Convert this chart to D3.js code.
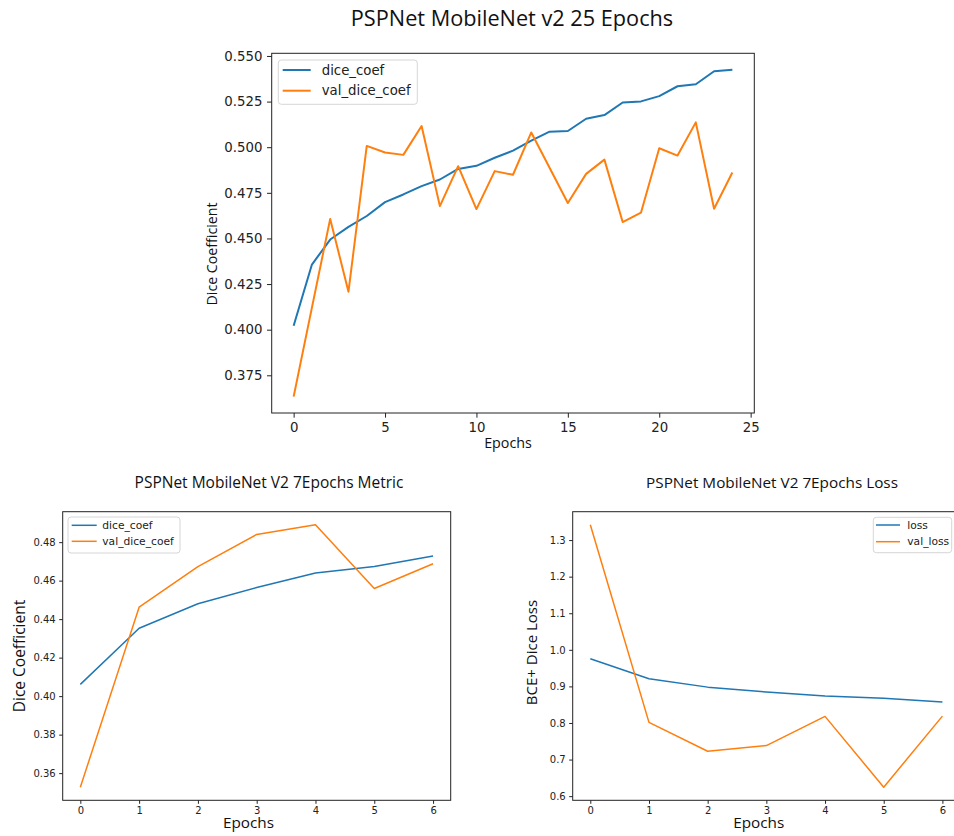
<!DOCTYPE html>
<html>
<head>
<meta charset="utf-8">
<script src="https://cdn.jsdelivr.net/npm/d3@7"></script>
<style>
	html, body { margin: 0; padding: 0; background: #fff; overflow: hidden; }
	svg { display: block; }
	.tick text { font-family: "DejaVu Sans", sans-serif; fill: #222; }
	.label { font-family: "Open Sans", "Noto Sans", sans-serif; fill: #111; }
</style>
</head>
<body>
<svg id="chart"></svg>
<script>
// 25 epoch run
var epochs25 = [0, 1, 2, 3, 4, 5, 6, 7, 8, 9, 10, 11, 12, 13, 14, 15, 16, 17, 18, 19, 20, 21, 22, 23, 24];
var diceCoef25 = [0.4022, 0.4357, 0.4494, 0.4563, 0.4623, 0.4699, 0.4741, 0.4787, 0.4823, 0.4881,
	0.4898, 0.4942, 0.4981, 0.5036, 0.5085, 0.5089, 0.5156, 0.5176, 0.5245, 0.5251,
	0.5280, 0.5334, 0.5345, 0.5416, 0.5425];
var valDiceCoef25 = [0.3633, 0.4121, 0.4607, 0.4208, 0.5007, 0.4971, 0.4958, 0.5116, 0.4677, 0.4896,
	0.4661, 0.4869, 0.4849, 0.5081, 0.4887, 0.4694, 0.4854, 0.4932, 0.4590, 0.4641,
	0.4994, 0.4954, 0.5136, 0.4663, 0.4861];
var xTicks25 = [0, 5, 10, 15, 20, 25];
var yTicks25 = [0.375, 0.400, 0.425, 0.450, 0.475, 0.500, 0.525, 0.550];

// 7 epoch run
var epochs7 = [0, 1, 2, 3, 4, 5, 6];
var diceCoef7 = [0.4061, 0.4353, 0.4480, 0.4564, 0.4640, 0.4673, 0.4728];
var valDiceCoef7 = [0.3527, 0.4462, 0.4673, 0.4840, 0.4890, 0.4559, 0.4688];
var loss7 = [0.9755, 0.9210, 0.8980, 0.8847, 0.8738, 0.8676, 0.8575];
var valLoss7 = [1.3417, 0.8016, 0.7226, 0.7382, 0.8180, 0.6245, 0.8188];
var xTicks7 = [0, 1, 2, 3, 4, 5, 6];
var yTicksMetric7 = [0.36, 0.38, 0.40, 0.42, 0.44, 0.46, 0.48];
var yTicksLoss7 = [0.6, 0.7, 0.8, 0.9, 1.0, 1.1, 1.2, 1.3];

var blue = "#1f77b4", orange = "#ff7f0e";

var svg = d3.select("#chart").attr("width", 954).attr("height", 836);

function drawPanel(cfg) {
	var g = svg.append("g");
	// matplotlib style 5% padding around the data
	var all = [];
	cfg.series.forEach(function(s) { all = all.concat(s.values); });
	var ext = d3.extent(all), pad = (ext[1] - ext[0]) * 0.05;
	var xPad = (d3.max(cfg.xs) - d3.min(cfg.xs)) * 0.05;

	var x = d3.scaleLinear()
		.domain([d3.min(cfg.xs) - xPad, d3.max(cfg.xs) + xPad])
		.range([cfg.left, cfg.right]);
	var y = d3.scaleLinear()
		.domain([ext[0] - pad, ext[1] + pad])
		.range([cfg.bottom, cfg.top]);

	var xAxis = g.append("g")
		.attr("transform", "translate(0," + cfg.bottom + ")")
		.call(d3.axisBottom(x).tickValues(cfg.xTicks).tickFormat(d3.format("d"))
			.tickSizeInner(cfg.tick).tickSizeOuter(0).tickPadding(cfg.tick));
	var yAxis = g.append("g")
		.attr("transform", "translate(" + cfg.left + ",0)")
		.call(d3.axisLeft(y).tickValues(cfg.yTicks).tickFormat(d3.format(cfg.yFormat))
			.tickSizeInner(cfg.tick).tickSizeOuter(0).tickPadding(cfg.tick));
	[xAxis, yAxis].forEach(function(a) {
		a.select(".domain").remove();
		a.selectAll(".tick line").attr("stroke", "#222");
		a.selectAll(".tick text").style("font-size", cfg.tickFont + "px");
	});

	var line = d3.line()
		.x(function(d, i) { return x(cfg.xs[i]); })
		.y(function(d) { return y(d); });

	var clipId = "clip" + Math.round(cfg.left);
	g.append("clipPath").attr("id", clipId)
		.append("rect")
			.attr("x", cfg.left).attr("y", cfg.top)
			.attr("width", cfg.right - cfg.left).attr("height", cfg.bottom - cfg.top);

	cfg.series.forEach(function(s) {
		g.append("path")
			.attr("d", line(s.values))
			.attr("clip-path", "url(#" + clipId + ")")
			.style("fill", "none")
			.style("stroke", s.color)
			.style("stroke-width", cfg.lineWidth + "px")
			.style("stroke-linejoin", "round");
	});

	// axes frame
	g.append("rect")
		.attr("x", cfg.left).attr("y", cfg.top)
		.attr("width", cfg.right - cfg.left).attr("height", cfg.bottom - cfg.top)
		.style("fill", "none")
		.style("stroke", "#222")
		.style("stroke-width", "1px");

	// legend
	var lg = cfg.legend;
	g.append("rect")
		.attr("x", lg.x).attr("y", lg.y)
		.attr("width", lg.w).attr("height", lg.h)
		.attr("rx", 3)
		.style("fill", "#fff")
		.style("fill-opacity", 0.8)
		.style("stroke", "#d6d6d6")
		.style("stroke-width", "1px");
	cfg.series.forEach(function(s, i) {
		var ly = lg.rows[i];
		g.append("line")
			.attr("x1", lg.lineX1).attr("x2", lg.lineX2)
			.attr("y1", ly).attr("y2", ly)
			.style("stroke", s.color)
			.style("stroke-width", cfg.lineWidth + "px");
		g.append("text")
			.text(s.name)
			.attr("x", lg.textX)
			.attr("y", ly)
			.attr("dy", "0.35em")
			.style("font-family", "'DejaVu Sans', sans-serif")
			.style("font-size", lg.font + "px")
			.style("fill", "#222");
	});

	// titles
	if (cfg.title) {
		g.append("text").attr("class", "label")
			.text(cfg.title.text)
			.attr("x", cfg.title.x).attr("y", cfg.title.y)
			.attr("text-anchor", "middle")
			.style("font-size", cfg.title.size + "px");
	}
	g.append("text").attr("class", "label")
		.text(cfg.xLabel.text)
		.attr("x", cfg.xLabel.x).attr("y", cfg.xLabel.y)
		.attr("text-anchor", "middle")
		.style("font-size", cfg.xLabel.size + "px");
	g.append("text").attr("class", "label")
		.text(cfg.yLabel.text)
		.attr("transform", "translate(" + cfg.yLabel.x + "," + cfg.yLabel.y + ") rotate(-90)")
		.attr("text-anchor", "middle")
		.style("font-size", cfg.yLabel.size + "px");
}

// big chart on top
drawPanel({
	left: 271.7, right: 754.3, top: 53.3, bottom: 413,
	xs: epochs25, xTicks: xTicks25, yTicks: yTicks25, yFormat: ".3f",
	tick: 4.67, tickFont: 13.3, lineWidth: 2,
	series: [
		{ name: "dice_coef", values: diceCoef25, color: blue },
		{ name: "val_dice_coef", values: valDiceCoef25, color: orange }
	],
	legend: { x: 278.3, y: 60, w: 139, h: 44.3, lineX1: 282.7, lineX2: 310.7, textX: 321.7, rows: [70, 90.7], font: 13.3 },
	title: { text: "PSPNet MobileNet v2 25 Epochs", x: 512, y: 26, size: 21.7 },
	xLabel: { text: "Epochs", x: 508, y: 448, size: 14.3 },
	yLabel: { text: "Dice Coefficient", x: 217, y: 254, size: 14.2 }
});

// bottom left, metric
drawPanel({
	left: 62.7, right: 450.7, top: 511.7, bottom: 800.3,
	xs: epochs7, xTicks: xTicks7, yTicks: yTicksMetric7, yFormat: ".2f",
	tick: 3.5, tickFont: 10, lineWidth: 1.5,
	series: [
		{ name: "dice_coef", values: diceCoef7, color: blue },
		{ name: "val_dice_coef", values: valDiceCoef7, color: orange }
	],
	legend: { x: 68, y: 517, w: 112, h: 36, lineX1: 71.7, lineX2: 96.7, textX: 102.3, rows: [525.3, 541.3], font: 10.7 },
	title: { text: "PSPNet MobileNet V2 7Epochs Metric", x: 269, y: 487.7, size: 15.5 },
	xLabel: { text: "Epochs", x: 248.5, y: 827.6, size: 15.3 },
	yLabel: { text: "Dice Coefficient", x: 25, y: 656, size: 15.5 }
});

// bottom right, loss (runs past the right edge in the original)
drawPanel({
	left: 572.7, right: 960, top: 511.7, bottom: 800.3,
	xs: epochs7, xTicks: xTicks7, yTicks: yTicksLoss7, yFormat: ".1f",
	tick: 3.5, tickFont: 10, lineWidth: 1.5,
	series: [
		{ name: "loss", values: loss7, color: blue },
		{ name: "val_loss", values: valLoss7, color: orange }
	],
	legend: { x: 873.3, y: 517.3, w: 78.4, h: 35.4, lineX1: 876, lineX2: 900, textX: 907.3, rows: [525, 541.7], font: 10.7 },
	title: { text: "PSPNet MobileNet V2 7Epochs Loss", x: 772, y: 487.7, size: 15.3 },
	xLabel: { text: "Epochs", x: 758.7, y: 827.6, size: 15.3 },
	yLabel: { text: "BCE+ Dice Loss", x: 536.7, y: 652.5, size: 15 }
});
</script>
</body>
</html>
